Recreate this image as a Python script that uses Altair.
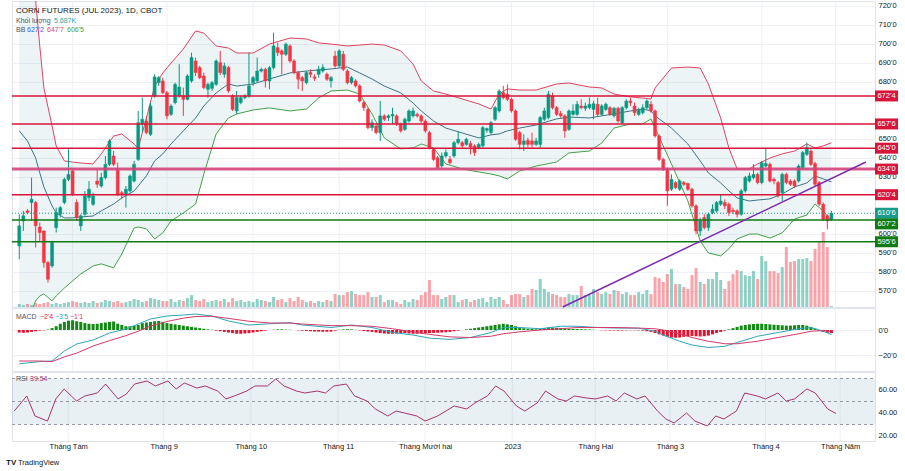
import altair as alt
import pandas as pd

FONT = "Liberation Sans"
UP, DOWN = "#089981", "#f23645"

# ---------------- daily candles, CBOT corn July 2023 (cents / bushel) ----------------
opens = [593.5, 606.7, 612.0, 616.4, 616.4, 603.5, 601.4, 584.8, 583.0, 603.2,
         610.2, 616.4, 628.6, 633.0, 616.4, 604.1, 610.2, 619.0, 615.5, 627.7,
         625.1, 629.5, 636.5, 640.9, 633.9, 621.6, 620.7, 622.5, 627.7, 639.1,
         657.6, 659.3, 652.3, 672.5, 679.5, 680.4, 674.2, 662.8, 669.0, 672.5,
         672.5, 670.7, 680.4, 690.9, 687.4, 683.0, 676.0, 676.5, 678.6, 690.0,
         683.9, 687.4, 672.5, 664.6, 669.0, 671.6, 672.5, 679.5, 680.4, 685.6,
         686.5, 680.4, 687.4, 697.9, 696.2, 694.4, 698.8, 690.9, 684.8, 682.1,
         679.5, 684.8, 682.5, 683.9, 685.6, 683.9, 680.4, 693.5, 688.3, 694.4,
         685.6, 679.5, 680.4, 677.8, 669.0, 665.4, 655.8, 656.7, 653.2, 662.0,
         661.1, 662.0, 662.0, 657.6, 654.9, 659.3, 662.0, 662.8, 662.0, 659.3,
         653.2, 644.4, 640.0, 635.6, 640.9, 639.1, 640.9, 647.9, 647.9, 647.0,
         647.4, 646.2, 645.3, 646.2, 654.4, 653.2, 660.2, 664.6, 674.2, 673.4,
         670.7, 664.6, 653.2, 647.0, 649.1, 648.8, 647.0, 647.0, 660.2, 661.1,
         672.5, 666.3, 663.2, 662.0, 654.9, 662.8, 662.8, 667.2, 666.0, 666.3,
         665.4, 668.1, 662.8, 665.4, 666.3, 662.0, 666.0, 658.4, 666.3, 669.8,
         667.2, 662.8, 663.7, 666.3, 668.1, 664.6, 651.4, 639.1, 633.9, 623.4,
         626.9, 623.4, 626.9, 626.4, 623.4, 614.6, 601.4, 608.5, 603.2, 611.1,
         612.0, 615.5, 616.4, 615.5, 612.3, 612.0, 610.2, 622.5, 627.7, 629.5,
         631.2, 626.9, 635.6, 636.5, 628.6, 626.9, 621.6, 631.2, 627.7, 627.7,
         627.7, 634.8, 641.8, 643.5, 636.9, 626.9, 615.5, 609.4, 607.6]
highs = [610.2, 612.0, 612.9, 629.5, 617.2, 605.8, 601.8, 585.7, 596.2, 613.7,
         614.6, 629.5, 644.4, 633.9, 618.1, 610.2, 622.5, 627.7, 621.6, 633.9,
         632.1, 640.9, 649.7, 643.5, 637.4, 622.5, 625.1, 631.2, 638.3, 664.6,
         671.6, 662.0, 669.0, 683.9, 683.0, 682.1, 675.1, 668.1, 679.5, 689.2,
         676.9, 683.9, 695.3, 692.7, 688.3, 684.8, 679.5, 680.4, 691.8, 696.2,
         690.0, 688.3, 673.4, 675.1, 672.5, 673.4, 695.3, 683.0, 692.7, 687.4,
         687.4, 688.3, 705.8, 700.6, 697.1, 700.6, 699.7, 691.8, 685.6, 683.0,
         685.6, 686.5, 683.9, 688.3, 689.2, 684.8, 683.0, 696.2, 697.1, 696.2,
         686.5, 683.0, 681.3, 678.6, 669.8, 666.3, 660.2, 657.6, 669.8, 662.8,
         662.8, 666.3, 662.8, 658.4, 661.1, 665.4, 666.3, 663.7, 662.8, 660.2,
         654.1, 645.3, 640.9, 642.7, 644.4, 640.9, 648.8, 654.1, 648.8, 650.5,
         648.8, 647.0, 647.9, 656.7, 655.8, 659.3, 667.2, 676.0, 677.8, 678.6,
         671.6, 665.4, 654.1, 652.3, 650.5, 653.2, 650.5, 662.0, 666.3, 675.1,
         674.2, 667.2, 664.6, 662.8, 665.4, 668.1, 669.8, 670.7, 669.0, 671.6,
         669.8, 671.6, 668.1, 669.0, 667.2, 666.7, 666.7, 667.2, 670.7, 671.6,
         669.0, 666.3, 668.1, 670.7, 669.8, 665.4, 652.3, 640.0, 634.8, 631.2,
         627.7, 628.6, 627.7, 626.9, 624.2, 615.5, 608.5, 610.2, 611.1, 615.5,
         617.2, 620.7, 618.1, 616.4, 613.7, 612.9, 623.4, 630.4, 632.1, 636.5,
         632.1, 638.3, 645.3, 637.4, 629.5, 627.7, 632.1, 632.1, 628.6, 628.6,
         636.5, 643.5, 647.9, 644.4, 637.8, 627.7, 616.4, 610.2, 612.0]
lows = [586.5, 601.4, 610.2, 606.7, 592.7, 596.2, 582.1, 574.3, 582.1, 600.6,
        608.5, 615.5, 627.7, 619.9, 606.7, 601.4, 609.4, 617.2, 614.6, 624.2,
        624.2, 628.6, 635.6, 635.6, 619.9, 618.1, 613.7, 621.6, 626.9, 638.3,
        653.2, 652.3, 651.4, 671.6, 677.8, 673.4, 660.2, 662.0, 668.1, 671.6,
        662.0, 670.2, 679.5, 683.0, 681.3, 676.0, 671.6, 675.1, 677.8, 683.5,
        682.1, 674.2, 664.6, 662.8, 668.1, 670.7, 671.6, 677.8, 679.5, 684.8,
        676.9, 676.0, 686.5, 693.5, 683.9, 693.5, 690.0, 683.9, 676.0, 675.1,
        678.6, 682.1, 680.4, 682.1, 684.8, 680.4, 676.9, 687.4, 687.4, 685.6,
        678.6, 678.6, 676.9, 669.0, 664.6, 654.9, 654.1, 652.3, 648.8, 659.3,
        659.3, 657.6, 656.7, 653.2, 654.1, 658.4, 661.1, 661.1, 658.4, 653.2,
        644.4, 638.3, 633.9, 634.8, 640.0, 636.5, 640.0, 647.0, 645.3, 646.2,
        641.8, 640.9, 644.4, 645.3, 653.2, 652.3, 659.3, 663.7, 670.7, 669.8,
        663.7, 648.8, 644.4, 643.5, 645.3, 645.3, 646.2, 645.3, 659.3, 660.2,
        665.4, 662.0, 661.1, 650.5, 654.1, 662.0, 662.0, 665.4, 664.6, 665.4,
        660.2, 662.0, 662.0, 664.6, 662.0, 661.1, 658.4, 657.6, 665.4, 667.2,
        662.0, 662.0, 662.8, 665.4, 663.7, 650.5, 638.3, 633.0, 614.6, 622.5,
        623.4, 622.5, 625.1, 622.5, 613.7, 599.7, 598.8, 602.3, 601.4, 610.2,
        611.1, 614.6, 612.9, 609.4, 610.2, 608.5, 609.4, 621.6, 626.9, 628.6,
        626.0, 626.0, 634.8, 626.9, 626.0, 619.0, 617.2, 626.0, 625.1, 624.2,
        626.9, 633.9, 640.9, 635.6, 625.1, 614.6, 606.7, 602.3, 606.7]
closes = [604.1, 609.4, 611.1, 618.1, 604.1, 600.6, 584.8, 576.0, 595.3, 611.1,
          613.7, 628.6, 631.2, 620.7, 608.5, 609.4, 619.9, 623.4, 619.9, 626.0,
          629.5, 636.5, 648.8, 636.5, 620.7, 620.7, 623.4, 630.4, 636.5, 658.4,
          660.2, 653.2, 667.2, 682.5, 682.1, 674.2, 662.0, 667.2, 678.6, 677.2,
          670.7, 683.0, 692.7, 684.8, 682.1, 676.9, 678.6, 679.5, 690.9, 684.8,
          688.3, 675.1, 665.4, 671.6, 671.6, 672.5, 677.8, 682.1, 685.6, 686.5,
          680.4, 687.4, 698.8, 695.3, 694.4, 699.7, 690.9, 684.8, 681.3, 680.4,
          684.8, 683.9, 681.8, 686.5, 687.4, 681.3, 682.1, 688.3, 696.2, 686.5,
          679.5, 682.1, 677.8, 669.8, 666.3, 655.8, 658.4, 653.2, 662.0, 660.2,
          662.0, 662.8, 657.6, 654.1, 660.2, 664.6, 664.6, 662.0, 659.3, 654.1,
          645.3, 639.1, 634.8, 640.9, 642.7, 637.4, 647.9, 649.7, 646.2, 649.7,
          645.6, 642.7, 647.0, 655.8, 655.3, 658.4, 666.3, 675.1, 671.6, 670.7,
          664.6, 649.7, 647.0, 648.8, 647.0, 647.0, 648.8, 661.1, 664.6, 673.4,
          666.3, 662.8, 662.0, 654.1, 664.6, 664.6, 668.1, 666.3, 667.2, 668.1,
          668.4, 662.8, 667.2, 668.1, 662.8, 666.0, 659.3, 666.3, 669.8, 669.0,
          663.7, 665.4, 666.3, 669.8, 664.6, 651.4, 639.1, 633.9, 622.5, 628.6,
          624.2, 627.7, 626.0, 623.4, 614.6, 601.4, 606.7, 603.2, 610.2, 612.9,
          616.4, 617.2, 614.6, 611.1, 611.6, 610.2, 622.5, 629.5, 630.4, 631.2,
          626.9, 637.4, 636.9, 627.7, 627.7, 619.9, 631.2, 626.9, 626.0, 625.1,
          635.6, 642.7, 645.3, 636.5, 626.0, 615.5, 607.6, 606.7, 610.75]
# volume, thousands of contracts
volumes = [17, 11, 17, 11, 23, 17, 23, 28, 17, 23, 17, 23, 28,
           34, 28, 23, 28, 23, 34, 23, 28, 40, 34, 28, 34, 23, 28, 34, 46, 40, 28, 34, 51, 46, 40, 34,
           34, 46, 28, 40, 34, 51, 68, 40, 34, 46, 28, 34, 40, 34, 46, 28, 51, 34, 40, 28, 34, 28, 46, 40, 34, 28, 57,
           40, 46, 28, 51, 34, 57, 40, 28, 34, 23, 34, 28, 40, 34,
           74, 68, 68, 85, 91, 74, 68, 68, 85, 57, 57, 68, 28, 40, 40, 28, 17, 40, 28, 46, 40, 68, 85,
           154, 68, 68, 46, 57, 68, 68, 28, 40, 46, 28, 40, 46, 51, 28, 57, 46, 57, 40, 17, 68, 74, 74, 57, 68,
           103, 97, 160, 103, 85, 74, 68, 57, 57, 74, 68, 68, 120, 68, 68, 103, 85, 74, 85, 74, 97, 91, 74, 85, 68, 68,
           85, 74, 97, 74, 171, 165, 143, 188, 217, 131, 131, 114, 103, 182, 222, 143, 131, 160, 160, 200, 154, 103,
           148, 188, 211, 205, 182, 177, 205, 160, 291, 262, 205, 205, 194, 228, 342, 257, 262, 274, 274, 279, 262,
           331, 371, 428, 342, 5.687]

# ---------------- Bollinger Bands (20, 2) ----------------
bb_idx = [0, 2, 4, 5, 6, 8, 9, 11, 13, 15, 18, 20, 23, 25, 28, 29, 31, 33, 35, 37,
          40, 43, 45, 48, 51, 53, 57, 61, 66, 70, 73, 76, 80, 83, 86, 89, 93, 96, 98, 101,
          104, 108, 112, 115, 117, 119, 122, 126, 131, 134, 139, 142, 145, 149, 152, 154, 155, 159, 163, 166,
          168, 171, 173, 175, 178, 180, 183, 186, 189, 192, 194, 196, 198]
bb_upper = [789.8, 756.7, 722.5, 698.8, 676.7, 656.7, 646.2, 638.3, 637.7, 637.2,
            636.7, 642.0, 651.4, 652.5, 647.2, 645.1, 660.9, 677.7, 684.6, 689.8,
            697.2, 706.7, 705.6, 698.8, 697.7, 695.1, 695.1, 699.8, 703.0, 702.5,
            700.4, 699.8, 698.8, 699.3, 699.8, 699.3, 696.2, 689.3, 680.4, 675.1,
            673.5, 670.9, 668.3, 665.6, 673.5, 676.2, 675.6, 675.6, 678.8, 679.3,
            677.2, 676.7, 673.5, 672.0, 671.4, 670.9, 676.7, 687.2, 687.7, 687.2,
            678.8, 660.9, 645.1, 634.1, 634.1, 636.7, 639.8, 642.0, 643.5, 647.2,
            645.1, 646.2, 647.875]
bb_basis = [654.1, 648.8, 639.8, 632.0, 624.6, 614.6, 610.9, 608.3, 608.3, 608.8,
            609.3, 612.0, 615.6, 618.8, 622.5, 625.1, 630.4, 638.3, 642.0, 647.2,
            654.1, 660.9, 667.2, 674.1, 678.8, 677.7, 678.8, 681.4, 684.6, 685.6,
            686.2, 686.7, 687.7, 684.6, 681.4, 677.7, 674.1, 668.8, 664.6, 659.3,
            655.6, 653.0, 650.4, 652.0, 652.5, 654.1, 655.6, 657.2, 660.4, 661.4,
            660.9, 662.0, 663.0, 664.6, 665.6, 664.6, 662.0, 655.6, 647.2, 638.3,
            632.0, 626.7, 622.5, 618.8, 617.2, 617.7, 618.3, 620.9, 624.6, 626.7,
            630.4, 628.8, 627.25]
bb_lower = [543.5, 554.1, 564.6, 567.2, 568.3, 564.6, 567.2, 571.4, 575.1, 578.8,
            583.0, 584.1, 582.0, 589.3, 603.0, 603.5, 602.5, 597.2, 600.4, 606.7,
            610.9, 615.6, 631.4, 652.5, 660.9, 663.0, 665.1, 666.2, 664.6, 665.6,
            671.4, 675.1, 675.6, 673.5, 663.0, 650.4, 644.6, 645.1, 647.2, 645.1,
            636.7, 634.1, 632.5, 631.4, 630.4, 628.8, 633.0, 635.6, 637.7, 642.5,
            643.5, 647.7, 655.6, 657.7, 657.7, 660.4, 655.6, 636.7, 617.2, 596.2,
            589.8, 588.3, 592.0, 597.2, 599.8, 599.8, 597.7, 600.4, 607.7, 609.8,
            615.6, 611.9, 606.625]

# ---------------- MACD (12, 26, 9) ----------------
macd_idx = [0, 5, 8, 11, 14, 18, 22, 26, 29, 32, 36, 40, 43, 47, 51, 56, 61, 66, 69, 76,
            81, 86, 91, 96, 100, 105, 110, 115, 118, 122, 127, 132, 136, 141, 146, 151, 155, 157, 161, 164,
            168, 172, 175, 180, 185, 190, 193, 196, 198]
macd_line = [-27, -25.3, -24.8, -16.8, -11.2, -8, -2.4, 0.8, 4.8, 8.8, 11.2, 12, 12.8, 11.2, 7.2, 4, 5, 5.8, 4, 2,
             4, 2, -2, -4, -6.5, -7.5, -6, -2, 2, 2, 1, 3, 3, 2, 1.5, 1.5, -1, -4, -9, -12,
             -14, -13, -10, -5, -2, 1, 2, -1, -3.625]
macd_signal = [-24.8, -24.8, -25.3, -21.5, -18.5, -12.8, -8.5, -4.5, -1, 3.2, 6.8, 9.5, 10.8, 11, 9.3, 7, 5.6, 5.6, 4.8, 3.5,
               3.5, 3, 1, -1.5, -3.5, -5.5, -6, -5, -3, -1.5, 0, 1, 2, 2, 2, 1.5, 1, 0, -3, -6,
               -9, -11, -11, -9, -6, -3, -1, -0.5, -1.125]
macd_hist = [-2.0, -2.2, -2.0, -1.5, -1.0, -0.5, -0.3, 0.3,
             1.5, 3, 5, 6.5, 7.5, 7.8,
             7, 6.5, 5.5, 5, 4.8, 5, 5.5, 6, 6.5, 6.8,
             5, 4, 3, 3, 3.2, 4, 5.5, 6, 6.5, 7, 7.2, 6.5, 5.5,
             5, 4.5, 4, 3.5, 3, 2.5, 2, 1.5, 1, 0.5, 0.2, -0.5, -1, -1.5,
             -2, -2.5, -3, -3, -2.8, -2.5, -2, -1.5,
             -1, -0.5, 0, 0.2, 0.5, 0.5, 0.3, 0.2, 0, -0.3, -0.5,
             -0.8, -1, -1.2, -1.3, -1.4, -1.4, -1.3,
             -0.5, 0.2, 0.5, 0.6, 0.5, 0.2, -0.3, -0.8, -1.2, -1.5,
             -2, -2.5, -2.8, -3, -3, -2.8, -2.5, -2.5, -2.8, -3, -3, -2.8, -2.5,
             -2.5, -2.3, -2.2, -2, -1.8, -1.5, -1, -0.5, 0, 0.5, 1,
             1.5, 2, 2.5, 3, 3.5, 4, 4.5, 5, 4.5, 4,
             3, 2, 1.5, 1, 0.8, 0.5, 1, 1.5, 2, 2,
             1.8, 1.5, 1.2, 1, 0.8, 0.8, 0.6, 0.5, 0.3, 0.2,
             0, -0.2, -0.3, -0.4, -0.4, -0.5, -0.4, -0.3, -0.2, -0.2, -0.3, -0.5,
             -1, -1.5, -2.5, -3.5, -4.5, -5.5, -6, -6.2,
             -6, -5.5, -5, -4.8, -5, -5.2, -5, -4.5, -3.5, -2.5,
             -1.5, -0.5, 0.5, 1.5, 2.5, 3.5, 4, 4.5, 4.8, 5,
             5, 4.8, 4.5, 4.2, 4, 3.8, 3.5, 3.5, 3.8, 4,
             4, 3.5, 2.5, 1, -0.5, -1.5, -2.2, -2.5]

# ---------------- RSI (14) ----------------
rsi_idx = [0, 3, 5, 8, 10, 12, 15, 17, 20, 22, 25, 27, 29, 32, 34, 37, 39, 41, 44, 46,
           49, 51, 53, 56, 58, 61, 63, 65, 68, 70, 73, 75, 77, 80, 82, 85, 87, 90, 92, 94,
           97, 99, 102, 104, 106, 109, 111, 114, 116, 118, 121, 123, 126, 128, 131, 133, 135, 138, 140, 143,
           145, 147, 150, 152, 155, 157, 159, 162, 164, 167, 169, 171, 174, 176, 179, 181, 184, 186, 188, 191,
           193, 196, 198]
rsi_vals = [41.7, 54.8, 37.4, 33.0, 52.2, 60.9, 50.4, 54.8, 57.4, 65.2, 52.2, 56.5, 65.2, 67.8, 63.5, 67.8, 60.9, 66.1, 61.7, 63.5,
            59.1, 52.2, 54.8, 59.1, 63.5, 63.5, 69.6, 63.5, 59.1, 57.4, 59.1, 57.4, 63.5, 65.2, 54.8, 50.4, 43.5, 37.4, 41.7, 40.0,
            37.4, 33.0, 37.4, 41.7, 46.1, 43.5, 48.7, 54.8, 63.5, 59.1, 46.1, 41.7, 48.7, 59.1, 52.2, 50.4, 54.8, 53.0, 52.2, 54.8,
            50.4, 57.4, 52.2, 54.8, 41.7, 34.8, 31.3, 40.0, 33.0, 28.7, 37.4, 34.8, 41.7, 57.4, 54.8, 52.2, 57.4, 50.4, 52.2, 60.9,
            57.4, 43.5, 39.54]

# ---------------- time axis and drawings ----------------
month_idx = [13, 36, 57, 78, 99, 120, 140, 158, 181, 199]
month_names = ["Tháng Tám", "Tháng 9", "Tháng 10", "Tháng 11", "Tháng Mười hai",
               "2023", "Tháng Hai", "Tháng 3", "Tháng 4", "Tháng Năm"]
price_ticks = [570, 580, 590, 600, 630, 640, 650, 680, 690, 700, 710, 720]
red_levels = [672.5, 657.75, 645.0, 620.5]
pivot_levels = [634.0]
support_levels = [607.25, 595.75]
trend_idx = [132.5, 206.4]
trend_price = [561.4, 637.7]


def eighths(v):
    """Format a price the CBOT way: 657.75 -> 657'6."""
    sign = "\u2212" if v < 0 else ""
    a = abs(v)
    whole = int(a)
    frac = int(round((a - whole) * 8))
    if frac == 8:
        whole, frac = whole + 1, 0
    return f"{sign}{whole}'{frac}"


# ---------------- layout ----------------
W = 863
H_PRICE, H_MACD, H_RSI = 306, 63, 69
X_DOMAIN = [-0.55, 207.4]
PRICE_DOMAIN = [561.4, 722.47]
VOL_DOMAIN = [0, 1746]
MACD_DOMAIN = [-32.8, 17.6]
RSI_DOMAIN = [15.65, 75.65]
GRID = "#eef1f7"
TXT = "#131722"

x_scale = alt.Scale(domain=X_DOMAIN, nice=False, zero=False)
price_scale = alt.Scale(domain=PRICE_DOMAIN, nice=False, zero=False)

names_js = "[" + ",".join(f"'{n}'" for n in month_names) + "]"
idx_js = "[" + ",".join(str(v) for v in month_idx) + "]"
x_bottom = alt.Axis(values=month_idx, labelExpr=f"{names_js}[indexof({idx_js}, datum.value)]",
                    ticks=False, domain=False, grid=False, title=None,
                    labelFont=FONT, labelFontSize=7.5, labelColor=TXT, labelPadding=1,
                    labelFlush=False, labelOverlap=False)
price_axis = alt.Axis(orient="right", values=price_ticks,
                      labelExpr="datum.value + \"'0\"", grid=True, gridColor=GRID,
                      ticks=False, domain=False, labelFont=FONT, labelFontSize=7.5,
                      labelColor=TXT, labelPadding=3, labelAlign="left",
                      labelBaseline="middle", title=None, labelOverlap=False)

X = alt.X("i:Q", scale=x_scale, axis=None)
month_df = pd.DataFrame({"i": month_idx})


def vgrid():
    """Faint vertical lines at the start of each month."""
    return alt.Chart(month_df).mark_rule(color=GRID, strokeWidth=1).encode(x=X)


def PY(field):
    return alt.Y(field, scale=price_scale, axis=price_axis)


candles = pd.DataFrame({"i": list(range(len(closes))), "open": opens, "high": highs,
                        "low": lows, "close": closes, "vol": volumes})
candles["dir"] = ["up" if c >= o else "down" for o, c in zip(opens, closes)]

# volume histogram on its own hidden scale
vol_layers = [vgrid()]
for d, col in (("up", UP), ("down", DOWN)):
    vol_layers.append(
        alt.Chart(candles).transform_filter(f"datum.dir == '{d}'")
        .mark_bar(size=3, color=col, opacity=0.45)
        .encode(x=X, y=alt.Y("vol:Q", scale=alt.Scale(domain=VOL_DOMAIN), axis=None))
    )
vol_group = alt.layer(*vol_layers)

bb = pd.DataFrame({"i": bb_idx, "upper": bb_upper, "basis": bb_basis, "lower": bb_lower})
bb_fill = alt.Chart(bb).mark_area(color="#1e6e8c", opacity=0.08, clip=True).encode(
    x=X, y=PY("upper:Q"), y2="lower:Q")
bb_lines = [
    alt.Chart(bb).mark_line(color=c, strokeWidth=1, clip=True).encode(x=X, y=PY(f"{f}:Q"))
    for f, c in (("upper", "#e0435f"), ("basis", "#3b7585"), ("lower", "#43a047"))
]

candle_layers = []
for d, col in (("up", UP), ("down", DOWN)):
    base = alt.Chart(candles).transform_filter(f"datum.dir == '{d}'")
    candle_layers.append(base.mark_rule(color=col, strokeWidth=1).encode(
        x=X, y=PY("low:Q"), y2="high:Q"))
    candle_layers.append(base.mark_bar(size=3, color=col, stroke=col, strokeWidth=0.5).encode(
        x=X, y=PY("open:Q"), y2="close:Q"))


def level_df(levels):
    return pd.DataFrame({"price": levels, "label": [eighths(v) for v in levels]})


RED, PIVOT, GREEN, LAST = "#d9143a", "#d2457a", "#117a11", "#1a9c8a"
last_df = level_df([closes[-1]])

level_layers = [
    alt.Chart(level_df(red_levels)).mark_rule(color=RED, strokeWidth=1.5).encode(
        y=PY("price:Q"), x=alt.value(0), x2=alt.value(W)),
    alt.Chart(level_df(pivot_levels)).mark_rule(color=PIVOT, strokeWidth=3, opacity=0.9).encode(
        y=PY("price:Q"), x=alt.value(0), x2=alt.value(W)),
    alt.Chart(level_df(support_levels)).mark_rule(color=GREEN, strokeWidth=1.5).encode(
        y=PY("price:Q"), x=alt.value(0), x2=alt.value(W)),
    alt.Chart(last_df).mark_rule(color=LAST, strokeWidth=1, strokeDash=[1, 2]).encode(
        y=PY("price:Q"), x=alt.value(0), x2=alt.value(W)),
]

trend = alt.Chart(pd.DataFrame({"i": trend_idx, "p": trend_price})).mark_line(
    color="#7b2bb0", strokeWidth=1.5).encode(x=X, y=PY("p:Q"))


def price_tag(df, color, dy=0):
    box = alt.Chart(df).mark_rule(color=color, strokeWidth=11, strokeCap="butt", yOffset=dy).encode(
        y=PY("price:Q"), x=alt.value(W), x2=alt.value(W + 23))
    txt = alt.Chart(df).mark_text(color="white", font=FONT, fontSize=7.5, align="center",
                                  baseline="middle", dy=dy).encode(
        y=PY("price:Q"), x=alt.value(W + 11.5), text="label:N")
    return [box, txt]


tags = (price_tag(level_df(red_levels), RED) + price_tag(level_df(pivot_levels), RED)
        + price_tag(last_df, LAST) + price_tag(level_df(support_levels[:1]), GREEN, 4)
        + price_tag(level_df(support_levels[1:]), GREEN))


def label(text, x, y, color=TXT, size=7.5, weight="normal"):
    return alt.Chart(pd.DataFrame({"t": [text]})).mark_text(
        align="left", baseline="middle", font=FONT, fontSize=size, color=color,
        fontWeight=weight).encode(text="t:N", x=alt.value(x), y=alt.value(y))


legend_price = [
    label("CORN FUTURES (JUL 2023), 1D, CBOT", 4, 10, TXT, 8),
    label("Khối lượng", 4, 19.5, "#50535e", 7),
    label(f"{volumes[-1]:.3f}K", 42, 19.5, "#26a69a", 7),
    label("BB", 4, 29, "#50535e", 7),
    label(eighths(bb_basis[-1]), 15, 29, "#2962ff", 7),
    label(eighths(bb_upper[-1]), 35, 29, "#e0435f", 7),
    label(eighths(bb_lower[-1]), 55, 29, "#43a047", 7),
]

price_group = alt.layer(bb_fill, *bb_lines, *candle_layers, *level_layers, trend, *tags, *legend_price)
price_panel = alt.layer(vol_group, price_group).resolve_scale(y="independent").properties(
    width=W, height=H_PRICE)

# ---------------- MACD pane ----------------
macd_scale = alt.Scale(domain=MACD_DOMAIN, nice=False, zero=False)
macd_axis = alt.Axis(orient="right", values=[0, -20],
                     labelExpr="(datum.value < 0 ? '\u2212' : '') + abs(datum.value) + \"'0\"",
                     grid=True, gridColor=GRID, ticks=False, domain=False, labelFont=FONT,
                     labelFontSize=7.5, labelColor=TXT, labelPadding=3, labelAlign="left",
                     labelBaseline="middle", title=None)
hist = pd.DataFrame({"i": list(range(len(macd_hist))), "h": macd_hist})
macd_df = pd.DataFrame({"i": macd_idx, "m": macd_line, "s": macd_signal})
MY = lambda f: alt.Y(f, scale=macd_scale, axis=macd_axis)
HIST_POS, HIST_NEG, MACD_C, SIG_C = "#138a13", "#e3122f", "#2ea6bb", "#d33a6a"
macd_panel = alt.layer(
    vgrid(),
    alt.Chart(hist).transform_filter("datum.h >= 0").mark_bar(size=3, color=HIST_POS).encode(
        x=X, y=MY("h:Q"), y2=alt.Y2Datum(0)),
    alt.Chart(hist).transform_filter("datum.h < 0").mark_bar(size=3, color=HIST_NEG).encode(
        x=X, y=MY("h:Q"), y2=alt.Y2Datum(0)),
    alt.Chart(macd_df).mark_line(color=MACD_C, strokeWidth=1).encode(x=X, y=MY("m:Q")),
    alt.Chart(macd_df).mark_line(color=SIG_C, strokeWidth=1).encode(x=X, y=MY("s:Q")),
    label("MACD", 4, 9, "#50535e", 7),
    label(eighths(macd_hist[-1]), 28, 9, HIST_NEG, 7),
    label(eighths(macd_line[-1]), 43, 9, MACD_C, 7),
    label(eighths(macd_signal[-1]), 58, 9, SIG_C, 7),
).properties(width=W, height=H_MACD)

# ---------------- RSI pane ----------------
rsi_scale = alt.Scale(domain=RSI_DOMAIN, nice=False, zero=False)
rsi_axis = alt.Axis(orient="right", values=[20, 40, 60], format=".2f", grid=False, ticks=False,
                    domain=False, labelFont=FONT, labelFontSize=7.5, labelColor=TXT,
                    labelPadding=3, labelAlign="left", labelBaseline="middle", title=None)
RY = lambda f: alt.Y(f, scale=rsi_scale, axis=rsi_axis)
XB = alt.X("i:Q", scale=x_scale, axis=x_bottom)
RSI_C = "#a8336e"
rsi_df = pd.DataFrame({"i": rsi_idx, "r": rsi_vals})
band = pd.DataFrame({"hi": [70], "lo": [30]})
guides = pd.DataFrame({"g": [70, 50, 30]})
rsi_panel = alt.layer(
    alt.Chart(month_df).mark_rule(color=GRID, strokeWidth=1).encode(x=XB),
    alt.Chart(band).mark_rect(color="#1e6e8c", opacity=0.1).encode(
        y=RY("hi:Q"), y2="lo:Q", x=alt.value(0), x2=alt.value(W)),
    alt.Chart(guides).mark_rule(color="#9598a1", strokeWidth=1, strokeDash=[3, 3]).encode(
        y=RY("g:Q"), x=alt.value(0), x2=alt.value(W)),
    alt.Chart(rsi_df).mark_line(color=RSI_C, strokeWidth=1).encode(x=XB, y=RY("r:Q")),
    label("RSI", 4, 7, "#50535e", 7),
    label(f"{rsi_vals[-1]:.2f}", 18, 7, RSI_C, 7),
    label("TV", -6, 91, TXT, 8, "bold"),
    label("TradingView", 6, 91, TXT, 7.5),
).properties(width=W, height=H_RSI)

chart = alt.vconcat(price_panel, macd_panel, rsi_panel, spacing=1, bounds="flush").properties(
    padding={"left": 5, "top": 0, "right": 0, "bottom": 0}, background="white"
).configure_view(stroke="#e0e3eb", strokeWidth=1)

chart.save("out.html", embed_options={"renderer": "svg", "actions": False})
